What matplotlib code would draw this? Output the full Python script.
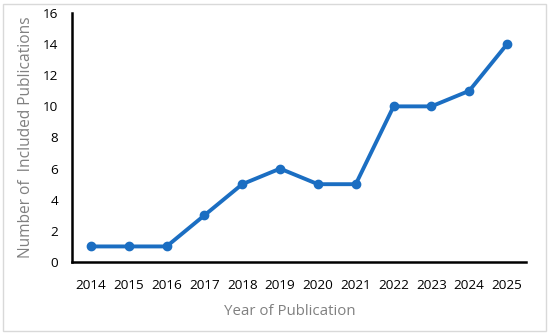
import matplotlib.pyplot as plt
from matplotlib.patches import Rectangle

years = ['2014', '2015', '2016', '2017', '2018', '2019', '2020', '2021', '2022', '2023', '2024', '2025']
counts = [1, 1, 1, 3, 5, 6, 5, 5, 10, 10, 11, 14]

plt.rcParams['font.family'] = ['Open Sans', 'DejaVu Sans']

fig = plt.figure(figsize=(5.5, 3.35), dpi=100)
ax = fig.add_axes([72/550, 1 - 262/335, 454/550, 249/335])

x = range(len(years))
ax.plot(x, counts, color='#1b6ec2', linewidth=2.8, marker='o', markersize=6, clip_on=False)

ax.set_xlim(-0.5, len(years) - 0.5)
ax.set_ylim(0, 16)
ax.set_yticks(range(0, 17, 2))
ax.set_xticks(list(x))
ax.set_xticklabels(years)
ax.tick_params(length=0, labelsize=9.7, colors='black')
ax.tick_params(axis='x', pad=12)
ax.tick_params(axis='y', pad=10)

for side in ['top', 'right']:
    ax.spines[side].set_visible(False)
for side in ['left', 'bottom']:
    ax.spines[side].set_linewidth(1.8)
    ax.spines[side].set_color('black')

ax.set_xlabel('Year of Publication', fontsize=10.8, color='#808080', labelpad=9)
ax.xaxis.set_label_coords(0.48, -0.17)
ax.set_ylabel('Number of  Included Publications', fontsize=11.2, color='#808080', labelpad=6)

# light frame around the chart area
fig.patches.append(Rectangle((3/550, 4/335), 543/550, 327/335, transform=fig.transFigure,
                             fill=False, edgecolor='#d9d9d9', linewidth=1))

fig.savefig('out.png', dpi=100)
